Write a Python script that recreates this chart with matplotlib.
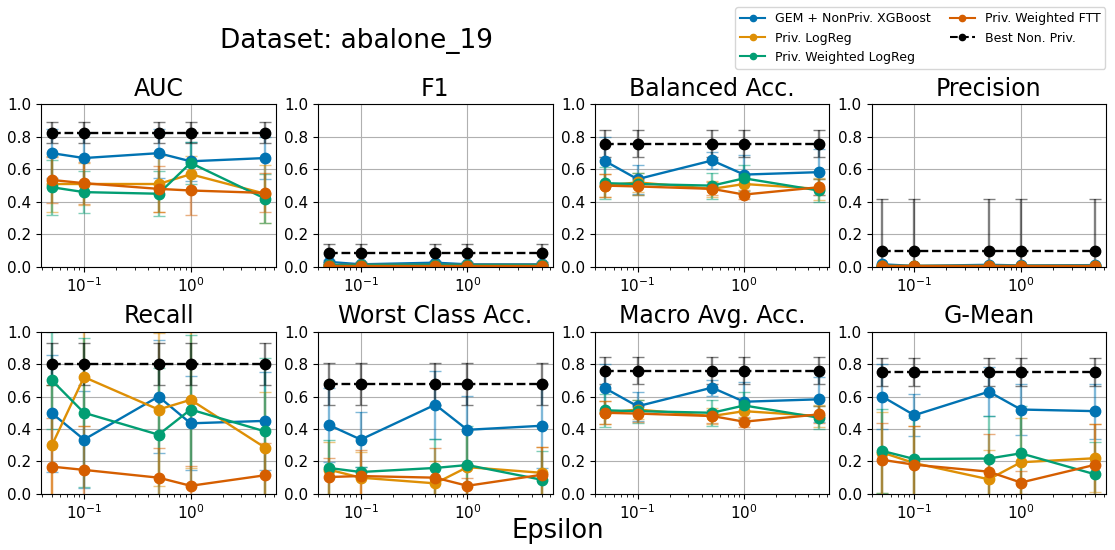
import numpy as np
import matplotlib
matplotlib.use("Agg")
import matplotlib.pyplot as plt
from matplotlib.lines import Line2D

eps = [0.05, 0.1, 0.5, 1.0, 5.0]
methods = ["GEM + NonPriv. XGBoost", "Priv. LogReg", "Priv. Weighted LogReg",
           "Priv. Weighted FTT", "Best Non. Priv."]
colors = ["#0173b2", "#de8f05", "#029e73", "#d55e00", "black"]
metrics = ["AUC", "F1", "Balanced Acc.", "Precision",
           "Recall", "Worst Class Acc.", "Macro Avg. Acc.", "G-Mean"]

# mean values per metric: [xgb, logreg, wlogreg, ftt, best]
auc_mean = [[0.70, 0.67, 0.70, 0.65, 0.67],
            [0.51, 0.51, 0.51, 0.57, 0.45],
            [0.49, 0.46, 0.45, 0.64, 0.42],
            [0.535, 0.515, 0.48, 0.47, 0.455],
            [0.826] * 5]
auc_err = [[0.15, 0.15, 0.15, 0.12, 0.13],
           [0.17, 0.13, 0.17, 0.11, 0.18],
           [0.17, 0.13, 0.14, 0.13, 0.15],
           [0.14, 0.13, 0.14, 0.15, 0.12],
           [0.065] * 5]

f1_mean = [[0.03, 0.015, 0.025, 0.015, 0.015],
           [0.008, 0.008, 0.008, 0.008, 0.008],
           [0.01, 0.01, 0.012, 0.01, 0.01],
           [0.005, 0.005, 0.005, 0.005, 0.005],
           [0.085] * 5]
f1_err = [[0.01, 0.005, 0.01, 0.005, 0.005],
          [0.005] * 5,
          [0.005] * 5,
          [0.003] * 5,
          [0.055] * 5]

bal_mean = [[0.65, 0.54, 0.655, 0.568, 0.583],
            [0.50, 0.52, 0.48, 0.51, 0.48],
            [0.515, 0.51, 0.50, 0.545, 0.47],
            [0.50, 0.495, 0.48, 0.445, 0.49],
            [0.758] * 5]
bal_err = [[0.15, 0.09, 0.05, 0.12, 0.14],
           [0.07, 0.06, 0.05, 0.06, 0.07],
           [0.10, 0.07, 0.08, 0.08, 0.07],
           [0.07, 0.05, 0.04, 0.03, 0.05],
           [0.083] * 5]

prec_mean = [[0.015, 0.005, 0.012, 0.008, 0.01],
             [0.003] * 5,
             [0.004] * 5,
             [0.002] * 5,
             [0.10] * 5]
prec_err = [[0.005] * 5,
            [0.002] * 5,
            [0.002] * 5,
            [0.002] * 5,
            [0.315] * 5]

rec_mean = [[0.497, 0.335, 0.60, 0.435, 0.45],
            [0.30, 0.72, 0.52, 0.58, 0.285],
            [0.70, 0.50, 0.365, 0.52, 0.385],
            [0.168, 0.148, 0.10, 0.05, 0.115],
            [0.80] * 5]
rec_err = [[0.36, 0.30, 0.35, 0.29, 0.30],
           [0.37, 0.30, 0.47, 0.42, 0.34],
           [0.30, 0.46, 0.41, 0.46, 0.45],
           [0.30, 0.27, 0.18, 0.12, 0.20],
           [0.13] * 5]

worst_mean = [[0.425, 0.335, 0.55, 0.395, 0.42],
              [0.15, 0.10, 0.065, 0.165, 0.13],
              [0.16, 0.135, 0.16, 0.178, 0.087],
              [0.104, 0.11, 0.10, 0.05, 0.118],
              [0.675] * 5]
worst_err = [[0.23, 0.17, 0.21, 0.21, 0.26],
             [0.17, 0.16, 0.14, 0.22, 0.16],
             [0.17, 0.03, 0.18, 0.24, 0.18],
             [0.12, 0.16, 0.18, 0.05, 0.17],
             [0.13] * 5]

gm_mean = [[0.60, 0.485, 0.63, 0.52, 0.51],
           [0.255, 0.19, 0.09, 0.195, 0.22],
           [0.265, 0.215, 0.218, 0.25, 0.12],
           [0.21, 0.18, 0.137, 0.07, 0.18],
           [0.75] * 5]
gm_err = [[0.20, 0.13, 0.15, 0.16, 0.17],
          [0.25, 0.23, 0.18, 0.27, 0.21],
          [0.26, 0.25, 0.26, 0.29, 0.20],
          [0.23, 0.24, 0.23, 0.07, 0.25],
          [0.085] * 5]

means = [auc_mean, f1_mean, bal_mean, prec_mean, rec_mean, worst_mean, bal_mean, gm_mean]
errs = [auc_err, f1_err, bal_err, prec_err, rec_err, worst_err, bal_err, gm_err]

fig, axes = plt.subplots(2, 4, figsize=(11.15, 5.5), dpi=100)
plt.subplots_adjust(left=0.037, right=0.992, top=0.81, bottom=0.102,
                    wspace=0.18, hspace=0.4)

for k, ax in enumerate(axes.flat):
    for j in range(5):
        ls = "--" if j == 4 else "-"
        line, caps, bars = ax.errorbar(eps, means[k][j], yerr=errs[k][j],
                                       color=colors[j], marker="o", ms=7.5,
                                       ls=ls, lw=1.7, capsize=4.5,
                                       label=methods[j])
        for c in caps:
            c.set_alpha(0.5)
        for b in bars:
            b.set_alpha(0.5)
    ax.set_xscale("log")
    ax.set_ylim(0, 1)
    ax.grid(True, color="#b0b0b0", lw=0.8)
    ax.set_title(metrics[k], fontsize=17)
    ax.tick_params(labelsize=11)

fig.text(0.32, 0.925, "Dataset: abalone_19", fontsize=19, ha="center", va="center")
fig.text(0.5, 0.035, "Epsilon", fontsize=18.5, ha="center", va="center")

handles = [Line2D([], [], color=colors[j], marker="o", ms=4.5, lw=1.5,
                  ls="--" if j == 4 else "-") for j in range(5)]
fig.legend(handles, methods, ncol=2,
           loc="upper right", bbox_to_anchor=(0.997, 0.998), fontsize=9,
           handlelength=2, columnspacing=1.5)

plt.savefig("out.png")
